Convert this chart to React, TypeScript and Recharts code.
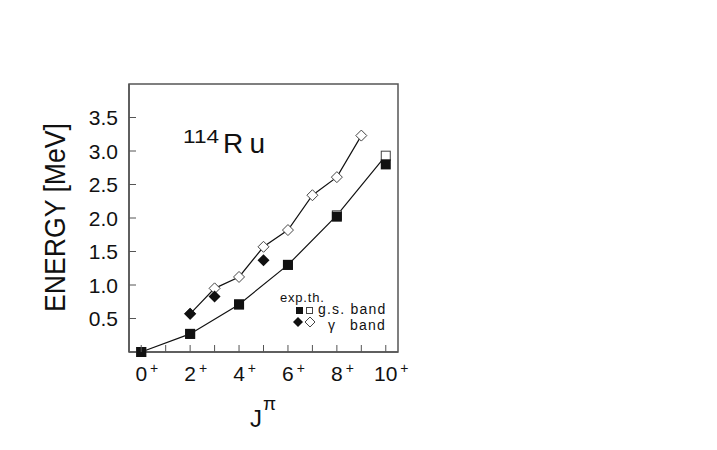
import React from "react";
import { LineChart, Line, XAxis, YAxis, ReferenceArea } from "recharts";

// spin values J (x axis) and energies in MeV
const jTicks = [0, 1, 2, 3, 4, 5, 6, 7, 8, 9, 10];
const eTicks = [0.5, 1.0, 1.5, 2.0, 2.5, 3.0, 3.5];

const gsJ = [0, 2, 4, 6, 8, 10];
const gsExp = [0, 0.27, 0.71, 1.3, 2.02, 2.8];
const gsTh = [0, 0.27, 0.71, 1.3, 2.04, 2.93];

const gamExpJ = [2, 3, 5];
const gamExp = [0.57, 0.83, 1.37];
const gamThJ = [2, 3, 4, 5, 6, 7, 8, 9];
const gamTh = [0.57, 0.95, 1.12, 1.57, 1.82, 2.34, 2.61, 3.23];

const zip = (js: number[], es: number[]) => js.map((j, i) => ({ j, e: es[i] }));

const FONT = "'Liberation Sans', Arial, sans-serif";
const INK = "#111";

const OpenSquare = (p: any) => (
  <rect x={p.cx - 4.5} y={p.cy - 4.5} width={9} height={9} fill="#fff" stroke="#444" strokeWidth={1} />
);
const FilledSquare = (p: any) => (
  <rect x={p.cx - 5} y={p.cy - 5} width={10} height={10} fill={INK} />
);
const OpenDiamond = (p: any) => (
  <path d={`M${p.cx},${p.cy - 5.5} L${p.cx + 5.5},${p.cy} L${p.cx},${p.cy + 5.5} L${p.cx - 5.5},${p.cy} Z`} fill="#fff" stroke="#444" strokeWidth={1} />
);
const FilledDiamond = (p: any) => (
  <path d={`M${p.cx},${p.cy - 6} L${p.cx + 6},${p.cy} L${p.cx},${p.cy + 6} L${p.cx - 6},${p.cy} Z`} fill={INK} />
);

const XTick = (p: any) => {
  const v = p.payload.value;
  const half = String(v).length * 5.8;
  return (
    <g>
      <line x1={p.x} y1={p.y} x2={p.x} y2={p.y - 7} stroke="#555" />
      {v % 2 === 0 && (
        <>
          <text x={p.x} y={p.y + 29} textAnchor="middle" fontSize={21} fontFamily={FONT} fill={INK}>{v}</text>
          <text x={p.x + half + 3} y={p.y + 21} fontSize={14} fontFamily={FONT} fill={INK}>+</text>
        </>
      )}
    </g>
  );
};

const YTick = (p: any) => (
  <g>
    <line x1={p.x} y1={p.y} x2={p.x + 7} y2={p.y} stroke="#555" />
    <text x={p.x - 11} y={p.y + 7.5} textAnchor="end" fontSize={21} fontFamily={FONT} fill={INK}>
      {p.payload.value.toFixed(1)}
    </text>
  </g>
);

export default function App() {
  return (
    <div style={{ position: "absolute", left: 0, top: 0, width: 717, height: 450, background: "#fff" }}>
      <LineChart width={717} height={450} margin={{ top: 84, right: 319, bottom: 68, left: 69 }}>
        <XAxis
          dataKey="j"
          type="number"
          domain={[-0.5, 10.5]}
          ticks={jTicks}
          interval={0}
          allowDuplicatedCategory={false}
          height={30}
          tickSize={0}
          tickMargin={0}
          tickLine={false}
          axisLine={{ stroke: "#555", strokeWidth: 1.5 }}
          tick={<XTick />}
        />
        <YAxis
          type="number"
          domain={[0, 4]}
          ticks={eTicks}
          interval={0}
          width={60}
          tickSize={0}
          tickMargin={0}
          tickLine={false}
          axisLine={{ stroke: "#555", strokeWidth: 1.5 }}
          tick={<YTick />}
        />
        <ReferenceArea x1={-0.5} x2={10.5} y1={0} y2={4} fill="none" stroke="#555" strokeWidth={1.5} />
        <Line data={zip(gsJ, gsTh)} dataKey="e" stroke={INK} strokeWidth={1.2} dot={<OpenSquare />} isAnimationActive={false} />
        <Line data={zip(gamThJ, gamTh)} dataKey="e" stroke={INK} strokeWidth={1.2} dot={<OpenDiamond />} isAnimationActive={false} />
        <Line data={zip(gsJ, gsExp)} dataKey="e" stroke="none" dot={<FilledSquare />} isAnimationActive={false} />
        <Line data={zip(gamExpJ, gamExp)} dataKey="e" stroke="none" dot={<FilledDiamond />} isAnimationActive={false} />
      </LineChart>
      <svg width={717} height={450} style={{ position: "absolute", left: 0, top: 0, pointerEvents: "none" }}>
        <text x={65} y={217.5} transform="rotate(-90 65 217.5)" textAnchor="middle" fontSize={30} fontFamily={FONT} fill={INK} textLength={189} lengthAdjust="spacingAndGlyphs">
          ENERGY [MeV]
        </text>
        <text x={183} y={143} fontSize={18} fontFamily={FONT} fill={INK} textLength={36} lengthAdjust="spacingAndGlyphs">114</text>
        <text x={223} y={153} fontSize={28} fontFamily={FONT} fill={INK} textLength={42} lengthAdjust="spacing">Ru</text>
        <text x={250} y={427} fontSize={24} fontFamily={FONT} fill={INK}>J</text>
        <text x={263} y={410} fontSize={19} fontFamily={FONT} fill={INK}>π</text>
        <text x={280} y={302} fontSize={13} letterSpacing={0.8} fontFamily={FONT} fill={INK}>exp.th.</text>
        <rect x={296} y={307} width={7} height={7} fill={INK} />
        <rect x={306.5} y={307.5} width={6} height={6} fill="#fff" stroke="#444" />
        <text x={318} y={314} fontSize={14} letterSpacing={1.2} fontFamily={FONT} fill={INK}>g.s. band</text>
        <path d="M298,317 L303,322 L298,327 L293,322 Z" fill={INK} />
        <path d="M310,317 L315,322 L310,327 L305,322 Z" fill="#fff" stroke="#444" />
        <text x={328} y={330} fontSize={14} fontFamily={FONT} fill={INK}>γ</text>
        <text x={350} y={330} fontSize={14} letterSpacing={1.2} fontFamily={FONT} fill={INK}>band</text>
      </svg>
    </div>
  );
}
